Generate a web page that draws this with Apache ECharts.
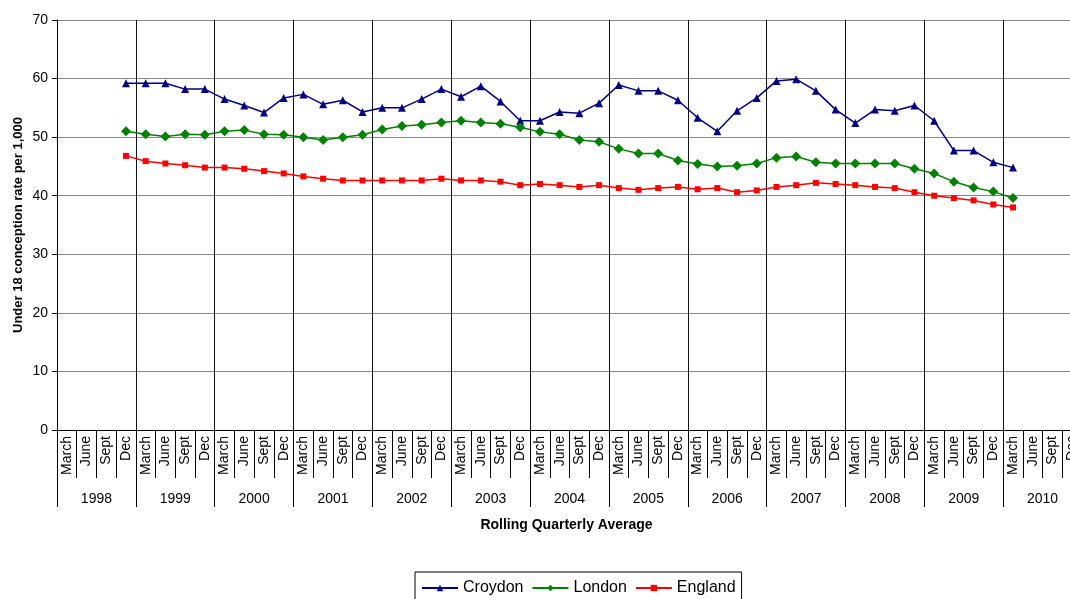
<!DOCTYPE html>
<html>
<head>
<meta charset="utf-8">
<title>Under 18 conception rate</title>
<script src="https://cdn.jsdelivr.net/npm/echarts@6/dist/echarts.min.js"></script>
<style>
  html, body { margin: 0; padding: 0; background: #fff; }
  #chart { width: 1070px; height: 599px; }
</style>
</head>
<body>
<div id="chart"></div>
<script>
// quarters March 1998 .. Dec 2010
const years = ['1998', '1999', '2000', '2001', '2002', '2003', '2004',
  '2005', '2006', '2007', '2008', '2009', '2010'];
const quarterNames = ['March', 'June', 'Sept', 'Dec'];

// rolling quarterly averages, first value is Dec 1998, last March 2010
const croydon = [null, null, null, 59.2,
  59.2, 59.2, 58.2, 58.2,
  56.5, 55.4, 54.2, 56.7,
  57.3, 55.6, 56.3, 54.3,
  55.0, 55.0, 56.5, 58.2,
  56.9, 58.7, 56.1, 52.8,
  52.8, 54.3, 54.1, 55.8,
  58.9, 57.9, 57.9, 56.3,
  53.3, 51.0, 54.5, 56.7,
  59.6, 59.9, 57.9, 54.7,
  52.4, 54.7, 54.5, 55.4,
  52.8, 47.7, 47.7, 45.7,
  44.8, null, null, null];
const london = [null, null, null, 51.0,
  50.5, 50.1, 50.5, 50.4,
  51.0, 51.2, 50.5, 50.4,
  50.0, 49.5, 50.0, 50.4,
  51.3, 51.9, 52.1, 52.5,
  52.8, 52.5, 52.3, 51.7,
  50.9, 50.5, 49.5, 49.2,
  48.0, 47.2, 47.2, 46.0,
  45.4, 45.0, 45.1, 45.5,
  46.5, 46.7, 45.7, 45.5,
  45.5, 45.5, 45.5, 44.6,
  43.8, 42.4, 41.4, 40.7,
  39.6, null, null, null];
const england = [null, null, null, 46.8,
  45.9, 45.5, 45.2, 44.8,
  44.8, 44.6, 44.2, 43.8,
  43.3, 42.9, 42.6, 42.6,
  42.6, 42.6, 42.6, 42.9,
  42.6, 42.6, 42.4, 41.8,
  42.0, 41.8, 41.5, 41.8,
  41.3, 41.0, 41.3, 41.5,
  41.1, 41.3, 40.6, 40.9,
  41.5, 41.8, 42.2, 42.0,
  41.8, 41.5, 41.3, 40.6,
  40.0, 39.6, 39.2, 38.5,
  38.0, null, null, null];

let quarters = [];
years.forEach(y => {
  quarterNames.forEach(q => quarters.push(q));
});

const font = "'Liberation Sans', Arial, sans-serif";
const chart = echarts.init(document.getElementById('chart'));

chart.setOption({
  animation: false,
  textStyle: { fontFamily: font, color: '#000' },
  // plot runs past the right edge of the picture, like the original
  grid: { left: 57, top: 20, width: 1025, height: 410, outerBoundsMode: 'none' },
  legend: {
    data: ['Croydon', 'London', 'England'],
    left: 415,
    top: 572,
    itemWidth: 36,
    itemHeight: 8,
    itemGap: 8,
    borderColor: '#000',
    borderWidth: 1,
    borderRadius: 0,
    padding: [8, 6, 10, 6],
    textStyle: { fontSize: 16, color: '#000', fontFamily: font }
  },
  xAxis: [{
    type: 'category',
    data: quarters,
    boundaryGap: true,
    axisLine: { show: true, lineStyle: { color: '#000', width: 1 } },
    axisTick: { show: true, interval: 0, length: 48, lineStyle: { color: '#000', width: 1 } },
    axisLabel: { interval: 0, rotate: 90, margin: 6, fontSize: 14, color: '#000' },
    splitLine: { show: false }
  }, {
    type: 'category',
    data: years,
    position: 'bottom',
    boundaryGap: true,
    axisLine: { show: false },
    axisTick: { show: true, interval: 0, length: 77, lineStyle: { color: '#000', width: 1 } },
    axisLabel: { interval: 0, margin: 62, fontSize: 14, color: '#000' },
    splitLine: { show: true, interval: 0, lineStyle: { color: '#111', width: 1 } },
    name: 'Rolling Quarterly Average',
    nameLocation: 'middle',
    nameGap: 88,
    nameTextStyle: { fontWeight: 'bold', fontSize: 14, color: '#000', padding: [0, 6, 0, 0] }
  }],
  yAxis: {
    type: 'value',
    min: 0,
    max: 70,
    interval: 10,
    axisLine: { show: true, lineStyle: { color: '#000' } },
    axisTick: { show: true, length: 5, lineStyle: { color: '#000' } },
    axisLabel: { margin: 9, fontSize: 14, color: '#000' },
    splitLine: { lineStyle: { color: '#888', width: 1 } },
    name: 'Under 18 conception rate per 1,000',
    nameLocation: 'middle',
    nameGap: 32,
    nameMoveOverlap: false,
    nameTextStyle: { fontWeight: 'bold', fontSize: 13, color: '#000' }
  },
  series: [{
    name: 'Croydon',
    type: 'line',
    data: croydon,
    symbol: 'triangle',
    symbolSize: 8,
    lineStyle: { color: '#000080', width: 1.5 },
    itemStyle: { color: '#000080' }
  }, {
    name: 'London',
    type: 'line',
    data: london,
    symbol: 'diamond',
    symbolSize: 10,
    lineStyle: { color: '#008000', width: 1.5 },
    itemStyle: { color: '#008000' }
  }, {
    name: 'England',
    type: 'line',
    data: england,
    symbol: 'rect',
    symbolSize: 6,
    lineStyle: { color: '#ff0000', width: 1.5 },
    itemStyle: { color: '#ff0000' }
  }]
});
</script>
</body>
</html>
